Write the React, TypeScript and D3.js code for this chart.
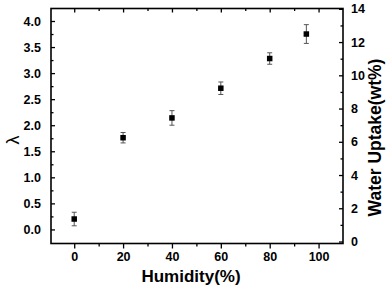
import React, { useRef, useEffect } from "react";
import * as d3 from "d3";

const humidity = [0, 20, 40, 60, 80, 95];
const lambda = [0.2, 1.76, 2.14, 2.71, 3.28, 3.75];
const lambdaErr = [0.13, 0.1, 0.14, 0.12, 0.11, 0.18];

const xTicks = [0, 20, 40, 60, 80, 100];
const xMinor = [10, 30, 50, 70, 90];
const yTicks = [0, 0.5, 1, 1.5, 2, 2.5, 3, 3.5, 4];
const yMinor = [0.25, 0.75, 1.25, 1.75, 2.25, 2.75, 3.25, 3.75];
const y2Ticks = [0, 2, 4, 6, 8, 10, 12, 14];
const y2Minor = [1, 3, 5, 7, 9, 11, 13];

const W = 388;
const H = 288;
const FONT = "Liberation Sans, Arial, sans-serif";

const App = () => {
  const svgRef = useRef<SVGSVGElement>(null);

  useEffect(() => {
    const margin = { top: 8.5, right: 45, bottom: 44.5, left: 51 };
    const width = W - margin.left - margin.right;
    const height = H - margin.top - margin.bottom;

    const svg = d3.select(svgRef.current);
    svg.selectAll("*").remove();

    const g = svg
      .append("g")
      .attr("transform", `translate(${margin.left},${margin.top})`);

    const x = d3.scaleLinear().domain([-9.5, 110]).range([0, width]);
    const y = d3.scaleLinear().domain([-0.27, 4.24]).range([height, 0]);
    const y2 = d3.scaleLinear().domain([-0.12, 14.02]).range([height, 0]);

    const styleAxis = (sel, size) => {
      sel.select(".domain").remove();
      sel.selectAll("line").attr("stroke", "#000").attr("stroke-width", 1.3);
      sel
        .selectAll("text")
        .style("font-family", FONT)
        .style("font-weight", "bold")
        .style("font-size", `${size}px`)
        .attr("fill", "#000");
    };

    // bottom axis (ticks outward)
    const bottom = g.append("g").attr("transform", `translate(0,${height})`);
    bottom
      .call(d3.axisBottom(x).tickValues(xTicks).tickSize(5).tickPadding(4))
      .call((s) => styleAxis(s, 12.5));
    bottom
      .append("g")
      .call(d3.axisBottom(x).tickValues(xMinor).tickSize(3).tickFormat(() => ""))
      .call((s) => styleAxis(s, 12.5));

    // top axis (ticks inward)
    const top = g.append("g");
    top
      .call(d3.axisBottom(x).tickValues(xTicks).tickSize(4).tickFormat(() => ""))
      .call((s) => styleAxis(s, 12));
    top
      .append("g")
      .call(d3.axisBottom(x).tickValues(xMinor).tickSize(2.5).tickFormat(() => ""))
      .call((s) => styleAxis(s, 12));

    // left axis (ticks inward)
    const left = g.append("g");
    left
      .call(
        d3
          .axisLeft(y)
          .tickValues(yTicks)
          .tickSize(-4)
          .tickPadding(10)
          .tickFormat(d3.format(".1f"))
      )
      .call((s) => styleAxis(s, 12.5));
    left
      .append("g")
      .call(d3.axisLeft(y).tickValues(yMinor).tickSize(-2.5).tickFormat(() => ""))
      .call((s) => styleAxis(s, 12));

    // right axis (ticks inward)
    const right = g.append("g").attr("transform", `translate(${width},0)`);
    right
      .call(d3.axisRight(y2).tickValues(y2Ticks).tickSize(-4).tickPadding(8))
      .call((s) => styleAxis(s, 12.5));
    right
      .append("g")
      .call(d3.axisRight(y2).tickValues(y2Minor).tickSize(-2.5).tickFormat(() => ""))
      .call((s) => styleAxis(s, 12));

    // frame
    g.append("rect")
      .attr("width", width)
      .attr("height", height)
      .attr("fill", "none")
      .attr("stroke", "#000")
      .attr("stroke-width", 1.6);

    const pts = humidity.map((h, i) => ({ h, v: lambda[i], e: lambdaErr[i] }));

    // error bars
    const eb = g.selectAll(".eb").data(pts).enter().append("g").attr("class", "eb");
    eb.append("line")
      .attr("x1", (d) => x(d.h))
      .attr("x2", (d) => x(d.h))
      .attr("y1", (d) => y(d.v - d.e))
      .attr("y2", (d) => y(d.v + d.e))
      .attr("stroke", "#555")
      .attr("stroke-width", 1);
    [-1, 1].forEach((s) => {
      eb.append("line")
        .attr("x1", (d) => x(d.h) - 2.5)
        .attr("x2", (d) => x(d.h) + 2.5)
        .attr("y1", (d) => y(d.v + s * d.e))
        .attr("y2", (d) => y(d.v + s * d.e))
        .attr("stroke", "#555")
        .attr("stroke-width", 1);
    });

    // markers
    g.selectAll(".pt")
      .data(pts)
      .enter()
      .append("rect")
      .attr("class", "pt")
      .attr("x", (d) => x(d.h) - 2.75)
      .attr("y", (d) => y(d.v) - 2.75)
      .attr("width", 5.5)
      .attr("height", 5.5)
      .attr("fill", "#000");

    // axis titles
    svg
      .append("text")
      .attr("x", 191)
      .attr("y", 282)
      .attr("text-anchor", "middle")
      .style("font-family", FONT)
      .style("font-weight", "bold")
      .style("font-size", "17px")
      .text("Humidity(%)");

    svg
      .append("text")
      .attr("transform", "translate(19,140) rotate(-90)")
      .attr("text-anchor", "middle")
      .style("font-family", FONT)
      .style("font-size", "18px")
      .text("λ");

    svg
      .append("text")
      .attr("transform", "translate(381,137.5) rotate(-90)")
      .attr("text-anchor", "middle")
      .style("font-family", FONT)
      .style("font-weight", "bold")
      .style("font-size", "17.5px")
      .text("Water Uptake(wt%)");

    return () => {
      svg.selectAll("*").remove();
    };
  }, []);

  return (
    <svg
      ref={svgRef}
      width={W}
      height={H}
      style={{ position: "absolute", left: 0, top: 0, background: "#fff" }}
    ></svg>
  );
};

export default App;
